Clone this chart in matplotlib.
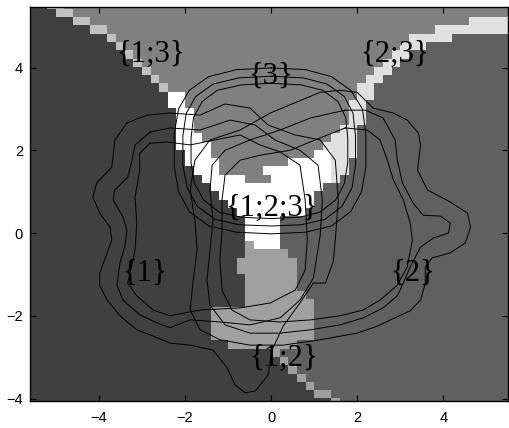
import numpy as np
import matplotlib.pyplot as plt
from matplotlib.colors import ListedColormap

# predicted set for each 0.2 x 0.2 cell, rows top to bottom
# each row is a list of (set code, last column of the run)
# codes: 1={1}, 2={2}, 3={3}, a={1;2}, b={1;3}, c={2;3}, w={1;2;3}
region_rows = [
    [("1", 1), ("b", 3), ("3", 55)],
    [("1", 2), ("b", 4), ("3", 55)],
    [("1", 4), ("b", 6), ("3", 50), ("c", 55)],
    [("1", 6), ("b", 8), ("3", 46), ("c", 55)],
    [("1", 8), ("b", 9), ("3", 43), ("c", 48), ("2", 55)],
    [("1", 9), ("b", 10), ("3", 42), ("c", 45), ("2", 55)],
    [("1", 10), ("b", 11), ("3", 41), ("c", 43), ("2", 55)],
    [("1", 11), ("b", 12), ("3", 40), ("c", 42), ("2", 55)],
    [("1", 12), ("b", 13), ("3", 39), ("c", 41), ("2", 55)],
    [("1", 13), ("b", 14), ("3", 38), ("c", 40), ("2", 55)],
    [("1", 14), ("b", 15), ("3", 37), ("c", 39), ("2", 55)],
    [("1", 15), ("w", 17), ("3", 37), ("c", 39), ("2", 55)],
    [("1", 15), ("w", 17), ("3", 36), ("c", 38), ("2", 55)],
    [("1", 16), ("w", 18), ("3", 36), ("c", 38), ("2", 55)],
    [("1", 16), ("w", 18), ("3", 36), ("c", 38), ("2", 55)],
    [("1", 16), ("w", 18), ("3", 35), ("c", 37), ("2", 55)],
    [("1", 16), ("w", 19), ("3", 34), ("c", 37), ("2", 55)],
    [("1", 16), ("w", 20), ("3", 33), ("c", 37), ("2", 55)],
    [("1", 17), ("w", 20), ("3", 32), ("w", 34), ("c", 37), ("2", 55)],
    [("1", 17), ("w", 21), ("3", 29), ("w", 34), ("c", 36), ("2", 55)],
    [("1", 18), ("w", 21), ("3", 26), ("w", 34), ("c", 36), ("2", 55)],
    [("1", 19), ("w", 24), ("3", 27), ("w", 34), ("c", 35), ("2", 55)],
    [("1", 20), ("w", 33), ("2", 55)],
    [("1", 21), ("w", 32), ("2", 55)],
    [("1", 22), ("w", 32), ("2", 55)],
    [("1", 23), ("w", 31), ("2", 55)],
    [("1", 24), ("w", 28), ("2", 55)],
    [("1", 24), ("w", 28), ("2", 55)],
    [("1", 24), ("w", 28), ("2", 55)],
    [("1", 24), ("a", 25), ("w", 28), ("2", 55)],
    [("1", 24), ("a", 29), ("2", 55)],
    [("1", 23), ("a", 30), ("2", 55)],
    [("1", 23), ("a", 30), ("2", 55)],
    [("1", 24), ("a", 30), ("2", 55)],
    [("1", 24), ("a", 30), ("2", 55)],
    [("1", 24), ("a", 31), ("2", 55)],
    [("1", 24), ("a", 32), ("2", 55)],
    [("1", 20), ("a", 32), ("2", 55)],
    [("1", 20), ("a", 32), ("2", 55)],
    [("1", 20), ("a", 32), ("2", 55)],
    [("1", 20), ("a", 32), ("2", 55)],
    [("1", 22), ("a", 30), ("2", 55)],
    [("1", 27), ("a", 28), ("2", 55)],
    [("1", 28), ("a", 29), ("2", 55)],
    [("1", 29), ("a", 30), ("2", 55)],
    [("1", 30), ("a", 31), ("2", 55)],
    [("1", 31), ("a", 32), ("2", 55)],
    [("1", 32), ("a", 34), ("2", 55)],
    [("1", 34), ("a", 35), ("2", 55)],
]
set_codes = ["1", "2", "3", "a", "b", "c", "w"]
set_grays = [64, 96, 128, 160, 192, 224, 255]
grid_extent = (-5.6, 5.6, -4.2, 5.6)

# density contours, three levels per class (outer, middle, inner)
c1_outer_x = [-3.35, -2.88, -2.35, -1.65, -1.07, -0.49, -0.07, 0.56, 1.14, 1.49, 1.56, 1.49, 1.44, 1.26,
              0.98, 0.67, 0.28, 0.02, -0.07, -0.37, -0.60, -0.84, -1.02, -1.35, -1.88, -2.35, -2.74,
              -3.12, -3.51, -3.81, -3.98, -3.98, -3.81, -3.70, -3.74, -3.98, -4.14, -4.05, -3.70, -3.63, -3.35]
c1_outer_y = [2.66, 2.85, 2.90, 2.85, 3.12, 3.02, 2.61, 2.37, 2.25, 1.76, 0.80, -0.17, -0.70, -1.21,
              -1.21, -1.69, -2.25, -2.83, -3.43, -3.82, -3.86, -3.67, -3.26, -2.83, -2.71, -2.66, -2.49,
              -2.34, -2.00, -1.62, -1.26, -0.97, -0.48, -0.17, 0.14, 0.48, 0.87, 1.21, 1.59, 2.25, 2.66]
c1_mid_x = [-2.81, -2.35, -1.65, -0.95, -0.37, 0.09, 0.67, 1.09, 1.19, 1.14, 0.98, 0.67, 0.21, -0.49,
            -1.19, -1.88, -2.35, -2.65, -3.05, -3.44, -3.58, -3.51, -3.40, -3.35, -3.44, -3.67, -3.63,
            -3.33, -3.23, -3.16, -2.81]
c1_mid_y = [2.44, 2.54, 2.49, 2.73, 2.61, 2.25, 2.00, 1.64, 0.80, -0.05, -1.09, -1.62, -2.05, -2.22,
            -2.15, -2.10, -2.29, -2.17, -1.98, -1.62, -1.26, -0.72, -0.34, 0.07, 0.39, 0.80, 1.04,
            1.35, 1.76, 2.13, 2.44]
c1_in_x = [-2.81, -2.42, -1.88, -1.30, -0.72, -0.26, 0.21, 0.67, 0.79, 0.84, 0.79, 0.56, -0.02, -0.72,
           -1.65, -2.35, -2.74, -3.12, -3.33, -3.28, -3.16, -3.12, -3.16, -3.05, -3.05, -2.81]
c1_in_y = [2.17, 2.20, 2.13, 2.25, 2.37, 2.13, 1.96, 1.64, 0.80, -0.17, -0.89, -1.38, -1.69, -1.81,
           -1.86, -2.00, -1.86, -1.52, -1.21, -0.97, -0.41, 0.24, 0.87, 1.52, 1.93, 2.17]

c2_outer_x = [1.60, 2.00, 2.37, 2.84, 3.16, 3.42, 3.47, 3.40, 3.63, 4.16, 4.56, 4.63, 4.51, 4.16, 3.74,
              3.58, 3.58, 3.47, 3.23, 2.77, 2.47, 2.00, 1.14, 0.28, -0.49, -1.19, -1.65, -1.88, -1.81,
              -1.72, -1.77, -1.88, -1.77, -1.42, -0.72, -0.02, 0.67, 1.14, 1.60]
c2_outer_y = [3.45, 3.40, 3.02, 2.90, 2.73, 2.42, 2.13, 1.52, 1.04, 0.75, 0.48, 0.14, -0.24, -0.48, -0.60,
              -0.82, -1.21, -1.62, -1.88, -2.10, -2.25, -2.42, -2.58, -2.71, -2.71, -2.58, -2.34, -1.86,
              -1.14, -0.41, 0.31, 1.04, 1.76, 2.25, 2.49, 2.90, 3.20, 3.40, 3.45]
c2_mid_x = [1.72, 2.19, 2.60, 2.88, 2.93, 3.05, 3.30, 3.53, 3.93, 4.16, 4.12, 3.77, 3.47, 3.23, 3.07,
            2.93, 2.60, 2.14, 1.60, 0.91, 0.21, -0.49, -1.07, -1.42, -1.49, -1.42, -1.35, -1.42, -1.37,
            -1.07, -0.49, 0.21, 0.91, 1.72]
c2_mid_y = [2.97, 2.97, 2.78, 2.25, 1.76, 1.21, 0.72, 0.43, 0.41, 0.24, 0.00, -0.12, -0.34, -0.82, -1.21,
            -1.52, -1.81, -2.05, -2.22, -2.34, -2.42, -2.42, -2.22, -1.74, -1.14, -0.41, 0.31, 1.04, 1.64,
            2.00, 2.25, 2.49, 2.78, 2.97]
c2_in_x = [1.72, 2.23, 2.53, 2.70, 2.84, 3.07, 3.23, 3.28, 3.16, 2.93, 2.53, 2.14, 1.60, 0.91, 0.21,
           -0.49, -0.91, -1.14, -1.19, -1.14, -1.14, -1.07, -0.72, -0.26, 0.44, 1.02, 1.72]
c2_in_y = [2.54, 2.49, 2.25, 1.76, 1.28, 0.80, 0.24, -0.17, -0.82, -1.26, -1.62, -1.86, -2.00, -2.10,
           -2.15, -2.10, -1.86, -1.38, -0.65, 0.07, 0.80, 1.40, 1.76, 1.88, 2.00, 2.25, 2.54]

c3_outer_x = [0.0, 0.8, 1.4, 1.85, 2.12, 2.2, 2.2, 2.1, 1.85, 1.4, 0.8, 0.0, -0.8, -1.45, -1.9, -2.15,
              -2.25, -2.25, -2.15, -1.9, -1.45, -0.8, 0.0]
c3_outer_y = [3.99, 3.95, 3.78, 3.45, 3.0, 2.4, 1.6, 1.0, 0.52, 0.17, 0.02, -0.02, 0.02, 0.17, 0.52, 1.0,
              1.6, 2.4, 3.0, 3.45, 3.78, 3.95, 3.99]
c3_mid_x = [0.0, 0.75, 1.3, 1.7, 1.9, 1.96, 1.96, 1.88, 1.65, 1.25, 0.7, 0.0, -0.75, -1.3, -1.72, -1.95,
            -2.05, -2.05, -1.97, -1.75, -1.35, -0.75, 0.0]
c3_mid_y = [3.79, 3.75, 3.6, 3.3, 2.9, 2.35, 1.65, 1.1, 0.65, 0.33, 0.2, 0.17, 0.2, 0.33, 0.65, 1.1,
            1.65, 2.35, 2.9, 3.3, 3.6, 3.75, 3.79]
c3_in_x = [0.0, 0.7, 1.2, 1.55, 1.73, 1.78, 1.78, 1.7, 1.5, 1.13, 0.65, 0.0, -0.7, -1.2, -1.57, -1.78,
           -1.86, -1.86, -1.8, -1.6, -1.25, -0.7, 0.0]
c3_in_y = [3.62, 3.58, 3.45, 3.18, 2.8, 2.3, 1.7, 1.2, 0.8, 0.5, 0.38, 0.35, 0.38, 0.5, 0.8, 1.2,
           1.7, 2.3, 2.8, 3.18, 3.45, 3.58, 3.62]

set_labels = ["{1;3}", "{3}", "{2;3}", "{1;2;3}", "{1}", "{2}", "{1;2}"]
label_x = [-2.79, -0.02, 2.86, 0.0, -2.93, 3.28, 0.28]
label_y = [4.33, 3.78, 4.33, 0.6, -0.98, -0.98, -3.04]

# build the cell grid from the runs
grid = []
for row in region_rows:
    cells = []
    start = 0
    for code, last in row:
        cells += [set_codes.index(code)] * (last - start + 1)
        start = last + 1
    grid.append(cells)
grid = np.array(grid)

cmap = ListedColormap([(g / 255, g / 255, g / 255) for g in set_grays])

fig = plt.figure(figsize=(5.1, 4.28), dpi=100)
ax = fig.add_axes([0.0588, 0.0631, 0.9372, 0.9212])
ax.imshow(grid, cmap=cmap, vmin=-0.5, vmax=6.5, extent=grid_extent,
          aspect='auto', interpolation='nearest', origin='upper')

contours = [(c1_outer_x, c1_outer_y), (c1_mid_x, c1_mid_y), (c1_in_x, c1_in_y),
            (c2_outer_x, c2_outer_y), (c2_mid_x, c2_mid_y), (c2_in_x, c2_in_y),
            (c3_outer_x, c3_outer_y), (c3_mid_x, c3_mid_y), (c3_in_x, c3_in_y)]
for cx, cy in contours:
    ax.plot(cx, cy, color='black', lw=0.7)

for txt, tx, ty in zip(set_labels, label_x, label_y):
    ax.text(tx, ty, txt, ha='center', va='center', fontsize=22,
            family='Liberation Serif', color='black')

ax.set_xlim(-5.6, 5.5)
ax.set_ylim(-4.06, 5.47)
ax.set_xticks([-4, -2, 0, 2, 4])
ax.set_yticks([-4, -2, 0, 2, 4])
ax.tick_params(direction='in', top=True, right=True, length=4, width=0.8,
               labelsize=10.5)
ax.tick_params(axis='x', pad=7)
ax.tick_params(axis='y', pad=5)
for lbl in ax.get_xticklabels() + ax.get_yticklabels():
    lbl.set_family('Liberation Sans')
for sp in ax.spines.values():
    sp.set_linewidth(1.0)

fig.savefig('out.png', dpi=100)
